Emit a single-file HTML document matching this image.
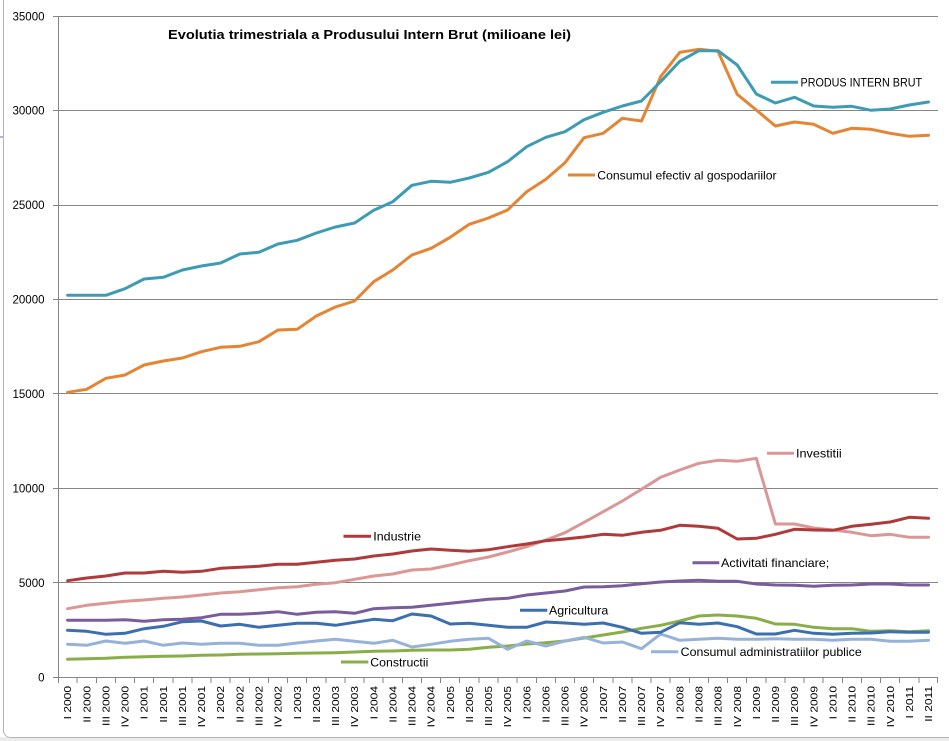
<!DOCTYPE html>
<html>
<head>
<meta charset="utf-8">
<style>
html,body{margin:0;padding:0;background:#fff;}
svg{display:block;}
text{font-family:"Liberation Sans",Arial,sans-serif;}
</style>
</head>
<body>
<svg width="949" height="741" viewBox="0 0 949 741" xmlns="http://www.w3.org/2000/svg">
<rect x="0" y="737" width="949" height="4" fill="#ececec"/>
<rect x="3.5" y="-20" width="970" height="757.5" rx="7" ry="7" fill="#fff" stroke="#b4b4b4" stroke-width="1"/>
<line x1="0" y1="137" x2="3" y2="137" stroke="#5a6fd8" stroke-width="1"/>

<!-- gridlines -->
<g stroke="#868686" stroke-width="1" shape-rendering="crispEdges">
<line x1="53" y1="16.5" x2="938" y2="16.5"/>
<line x1="53" y1="110.5" x2="938" y2="110.5"/>
<line x1="53" y1="205.5" x2="938" y2="205.5"/>
<line x1="53" y1="299.5" x2="938" y2="299.5"/>
<line x1="53" y1="393.5" x2="938" y2="393.5"/>
<line x1="53" y1="488.5" x2="938" y2="488.5"/>
<line x1="53" y1="582.5" x2="938" y2="582.5"/>
<line x1="53" y1="677.5" x2="938" y2="677.5"/>
<line x1="58.5" y1="16" x2="58.5" y2="678"/>
</g>
<!-- x ticks -->
<g stroke="#868686" stroke-width="1" shape-rendering="crispEdges">
<line x1="58.5" y1="677" x2="58.5" y2="683"/><line x1="77.1" y1="677" x2="77.1" y2="683"/><line x1="96.3" y1="677" x2="96.3" y2="683"/><line x1="115.4" y1="677" x2="115.4" y2="683"/><line x1="134.5" y1="677" x2="134.5" y2="683"/><line x1="153.7" y1="677" x2="153.7" y2="683"/><line x1="172.8" y1="677" x2="172.8" y2="683"/><line x1="191.9" y1="677" x2="191.9" y2="683"/><line x1="211.0" y1="677" x2="211.0" y2="683"/><line x1="230.2" y1="677" x2="230.2" y2="683"/><line x1="249.3" y1="677" x2="249.3" y2="683"/><line x1="268.4" y1="677" x2="268.4" y2="683"/><line x1="287.6" y1="677" x2="287.6" y2="683"/><line x1="306.7" y1="677" x2="306.7" y2="683"/><line x1="325.8" y1="677" x2="325.8" y2="683"/><line x1="345.0" y1="677" x2="345.0" y2="683"/><line x1="364.1" y1="677" x2="364.1" y2="683"/><line x1="383.2" y1="677" x2="383.2" y2="683"/><line x1="402.3" y1="677" x2="402.3" y2="683"/><line x1="421.5" y1="677" x2="421.5" y2="683"/><line x1="440.6" y1="677" x2="440.6" y2="683"/><line x1="459.7" y1="677" x2="459.7" y2="683"/><line x1="478.9" y1="677" x2="478.9" y2="683"/><line x1="498.0" y1="677" x2="498.0" y2="683"/><line x1="517.1" y1="677" x2="517.1" y2="683"/><line x1="536.3" y1="677" x2="536.3" y2="683"/><line x1="555.4" y1="677" x2="555.4" y2="683"/><line x1="574.5" y1="677" x2="574.5" y2="683"/><line x1="593.6" y1="677" x2="593.6" y2="683"/><line x1="612.8" y1="677" x2="612.8" y2="683"/><line x1="631.9" y1="677" x2="631.9" y2="683"/><line x1="651.0" y1="677" x2="651.0" y2="683"/><line x1="670.2" y1="677" x2="670.2" y2="683"/><line x1="689.3" y1="677" x2="689.3" y2="683"/><line x1="708.4" y1="677" x2="708.4" y2="683"/><line x1="727.6" y1="677" x2="727.6" y2="683"/><line x1="746.7" y1="677" x2="746.7" y2="683"/><line x1="765.8" y1="677" x2="765.8" y2="683"/><line x1="784.9" y1="677" x2="784.9" y2="683"/><line x1="804.1" y1="677" x2="804.1" y2="683"/><line x1="823.2" y1="677" x2="823.2" y2="683"/><line x1="842.3" y1="677" x2="842.3" y2="683"/><line x1="861.5" y1="677" x2="861.5" y2="683"/><line x1="880.6" y1="677" x2="880.6" y2="683"/><line x1="899.7" y1="677" x2="899.7" y2="683"/><line x1="918.9" y1="677" x2="918.9" y2="683"/><line x1="937.5" y1="677" x2="937.5" y2="683"/>
</g>

<!-- y labels -->
<g font-size="11.5" fill="#000" text-anchor="end">
<text x="44.5" y="20.5">35000</text>
<text x="44.5" y="114.5">30000</text>
<text x="44.5" y="209">25000</text>
<text x="44.5" y="303.5">20000</text>
<text x="44.5" y="398">15000</text>
<text x="44.5" y="492.5">10000</text>
<text x="44.5" y="587">5000</text>
<text x="44.5" y="681.5">0</text>
</g>

<!-- title -->
<text x="168" y="39" font-size="13" font-weight="bold" fill="#000" textLength="403" lengthAdjust="spacingAndGlyphs">Evolutia trimestriala a Produsului Intern Brut (milioane lei)</text>

<!-- series -->
<g fill="none" stroke-width="3" stroke-linejoin="round" stroke-linecap="round">
<polyline stroke="#89AE48" points="67.6,659.3 86.7,658.7 105.9,658.3 125.0,657.3 144.1,656.7 163.3,656.3 182.4,656 201.5,655.3 220.6,655 239.8,654.3 258.9,654 278.0,653.7 297.2,653.3 316.3,653 335.4,652.7 354.6,652 373.7,651.3 392.8,651 411.9,650.3 431.1,650 450.2,650 469.3,649.3 488.5,647.3 507.6,646 526.7,644 545.9,642.7 565.0,641 584.1,638 603.2,635 622.4,632 641.5,628.3 660.6,625.3 679.8,621 698.9,616 718.0,615 737.2,616 756.3,618.3 775.4,624 794.5,624.3 813.7,627.3 832.8,628.7 851.9,628.7 871.1,631.3 890.2,630.7 909.3,631.7 928.5,630.7"/>
<polyline stroke="#96B2D8" points="67.6,644.3 86.7,645.3 105.9,641 125.0,643.3 144.1,641 163.3,645.3 182.4,643 201.5,644.3 220.6,643.3 239.8,643.3 258.9,645.3 278.0,645.3 297.2,643 316.3,641 335.4,639.3 354.6,641.3 373.7,643.3 392.8,640.3 411.9,647 431.1,644.3 450.2,641.3 469.3,639.3 488.5,638.3 507.6,649.3 526.7,641 545.9,646 565.0,641 584.1,637.3 603.2,643 622.4,642 641.5,648.7 660.6,634 679.8,640.3 698.9,639.3 718.0,638.3 737.2,639.3 756.3,639.3 775.4,638.7 794.5,639.3 813.7,639.3 832.8,640.3 851.9,639.3 871.1,639.3 890.2,641.3 909.3,641.3 928.5,640.3"/>
<polyline stroke="#3C6FAF" points="67.6,630.3 86.7,631.3 105.9,634.3 125.0,633.3 144.1,628.7 163.3,626.3 182.4,621.7 201.5,621 220.6,626 239.8,624.3 258.9,627.3 278.0,625.3 297.2,623.3 316.3,623.3 335.4,625.3 354.6,622.3 373.7,619.3 392.8,620.7 411.9,614 431.1,616 450.2,624 469.3,623.3 488.5,625.3 507.6,627.3 526.7,627.3 545.9,622 565.0,623 584.1,624.3 603.2,623 622.4,627.3 641.5,633.3 660.6,632.3 679.8,622.7 698.9,624.3 718.0,623 737.2,626.7 756.3,634 775.4,634 794.5,630.3 813.7,633.3 832.8,634.3 851.9,633.3 871.1,633 890.2,631.7 909.3,632.3 928.5,632.3"/>
<polyline stroke="#7A5C9C" points="67.6,620.3 86.7,620.3 105.9,620.3 125.0,619.7 144.1,621.3 163.3,619.7 182.4,619.3 201.5,617.7 220.6,614.3 239.8,614.3 258.9,613.3 278.0,611.7 297.2,614.3 316.3,612.3 335.4,611.7 354.6,613.3 373.7,608.7 392.8,607.7 411.9,607.3 431.1,605.3 450.2,603.3 469.3,601.3 488.5,599.3 507.6,598.3 526.7,595 545.9,593 565.0,591 584.1,587 603.2,586.7 622.4,585.7 641.5,583.7 660.6,582 679.8,581 698.9,580.3 718.0,581.3 737.2,581.3 756.3,584 775.4,585 794.5,585.3 813.7,586.3 832.8,585.3 851.9,585 871.1,584 890.2,584 909.3,585 928.5,585"/>
<polyline stroke="#DA9795" points="67.6,608.7 86.7,605.3 105.9,603.3 125.0,601.3 144.1,600 163.3,598.3 182.4,597 201.5,595 220.6,593 239.8,591.7 258.9,589.7 278.0,587.7 297.2,586.7 316.3,584.3 335.4,582.7 354.6,579.3 373.7,576 392.8,574 411.9,570 431.1,569 450.2,565 469.3,560.7 488.5,557 507.6,552 526.7,546.7 545.9,540 565.0,532.7 584.1,522.3 603.2,511.7 622.4,501 641.5,489.3 660.6,477.3 679.8,470 698.9,463.3 718.0,460.3 737.2,461.3 756.3,458.3 775.4,524 794.5,524 813.7,528 832.8,530 851.9,532.3 871.1,535.7 890.2,534.3 909.3,537.3 928.5,537.3"/>
<polyline stroke="#B0393A" points="67.6,580.7 86.7,578 105.9,576 125.0,573 144.1,573 163.3,571.3 182.4,572.3 201.5,571.3 220.6,568.3 239.8,567.3 258.9,566.3 278.0,564.3 297.2,564.3 316.3,562.3 335.4,560.3 354.6,559 373.7,556 392.8,554 411.9,551 431.1,549 450.2,550.3 469.3,551.3 488.5,549.7 507.6,546.7 526.7,544 545.9,540.7 565.0,539 584.1,537 603.2,534.3 622.4,535.3 641.5,532.3 660.6,530.3 679.8,525.3 698.9,526.3 718.0,528.3 737.2,539 756.3,538.3 775.4,534.3 794.5,529.3 813.7,530 832.8,530.3 851.9,526.3 871.1,524.3 890.2,522 909.3,517.3 928.5,518.3"/>
<polyline stroke="#E58432" points="67.6,392.3 86.7,389.3 105.9,378.3 125.0,375 144.1,365 163.3,361 182.4,358 201.5,351.7 220.6,347.3 239.8,346.3 258.9,341.7 278.0,330 297.2,329.3 316.3,316 335.4,307 354.6,301 373.7,281.7 392.8,270 411.9,255 431.1,248.3 450.2,237.3 469.3,224.3 488.5,218 507.6,210 526.7,191.7 545.9,179.3 565.0,162.7 584.1,137.7 603.2,133.3 622.4,118.3 641.5,121 660.6,76.7 679.8,52.3 698.9,49.3 718.0,51.3 737.2,94.3 756.3,110 775.4,126 794.5,122 813.7,124.3 832.8,133.3 851.9,128.3 871.1,129.3 890.2,133.3 909.3,136.3 928.5,135.3"/>
<polyline stroke="#3E9BB4" points="67.6,295.3 86.7,295.3 105.9,295.3 125.0,288.7 144.1,279 163.3,277.3 182.4,270 201.5,266 220.6,263 239.8,254 258.9,252.3 278.0,244 297.2,240.3 316.3,233 335.4,227 354.6,223 373.7,210.3 392.8,201.7 411.9,185.3 431.1,181.3 450.2,182.3 469.3,178 488.5,172.3 507.6,161.7 526.7,146.7 545.9,137.3 565.0,131.7 584.1,119.7 603.2,112.3 622.4,106 641.5,101 660.6,81.7 679.8,61.3 698.9,50.7 718.0,50.7 737.2,65 756.3,94 775.4,103 794.5,97.3 813.7,106 832.8,107.3 851.9,106.3 871.1,110.3 890.2,109 909.3,105 928.5,102"/>
</g>

<!-- inline legend markers -->
<g stroke-width="3" stroke-linecap="butt">
<line x1="771" y1="82.3" x2="798" y2="82.3" stroke="#3E9BB4"/>
<line x1="568" y1="175" x2="595" y2="175" stroke="#E58432"/>
<line x1="767" y1="453.3" x2="794" y2="453.3" stroke="#DA9795"/>
<line x1="343.5" y1="536.3" x2="371" y2="536.3" stroke="#B0393A"/>
<line x1="692.5" y1="562.7" x2="719.3" y2="562.7" stroke="#7A5C9C"/>
<line x1="520" y1="610.3" x2="547.3" y2="610.3" stroke="#3C6FAF"/>
<line x1="651" y1="651.7" x2="678.3" y2="651.7" stroke="#96B2D8"/>
<line x1="341" y1="662" x2="368.3" y2="662" stroke="#89AE48"/>
</g>
<g font-size="12" fill="#000">
<text x="800.5" y="86.6" textLength="121.6" lengthAdjust="spacingAndGlyphs">PRODUS INTERN BRUT</text>
<text x="597.3" y="179.3" textLength="179.3" lengthAdjust="spacingAndGlyphs">Consumul efectiv al gospodariilor</text>
<text x="796" y="457.6" textLength="45.7" lengthAdjust="spacingAndGlyphs">Investitii</text>
<text x="373.3" y="540.6" textLength="47.7" lengthAdjust="spacingAndGlyphs">Industrie</text>
<text x="721" y="567" textLength="108.3" lengthAdjust="spacingAndGlyphs">Activitati financiare;</text>
<text x="549" y="614.6" textLength="59.3" lengthAdjust="spacingAndGlyphs">Agricultura</text>
<text x="680.7" y="656" textLength="181" lengthAdjust="spacingAndGlyphs">Consumul administratiilor publice</text>
<text x="370.3" y="666.3" textLength="58" lengthAdjust="spacingAndGlyphs">Constructii</text>
</g>

<!-- x labels -->
<g font-size="10" fill="#000" text-anchor="end">
<text transform="translate(71.2,686) rotate(-90) scale(1.2,1)">I 2000</text>
<text transform="translate(90.3,686) rotate(-90) scale(1.2,1)">II 2000</text>
<text transform="translate(109.5,686) rotate(-90) scale(1.2,1)">III 2000</text>
<text transform="translate(128.6,686) rotate(-90) scale(1.2,1)">IV 2000</text>
<text transform="translate(147.7,686) rotate(-90) scale(1.2,1)">I 2001</text>
<text transform="translate(166.9,686) rotate(-90) scale(1.2,1)">II 2001</text>
<text transform="translate(186.0,686) rotate(-90) scale(1.2,1)">III 2001</text>
<text transform="translate(205.1,686) rotate(-90) scale(1.2,1)">IV 2001</text>
<text transform="translate(224.2,686) rotate(-90) scale(1.2,1)">I 2002</text>
<text transform="translate(243.4,686) rotate(-90) scale(1.2,1)">II 2002</text>
<text transform="translate(262.5,686) rotate(-90) scale(1.2,1)">III 2002</text>
<text transform="translate(281.6,686) rotate(-90) scale(1.2,1)">IV 2002</text>
<text transform="translate(300.8,686) rotate(-90) scale(1.2,1)">I 2003</text>
<text transform="translate(319.9,686) rotate(-90) scale(1.2,1)">II 2003</text>
<text transform="translate(339.0,686) rotate(-90) scale(1.2,1)">III 2003</text>
<text transform="translate(358.2,686) rotate(-90) scale(1.2,1)">IV 2003</text>
<text transform="translate(377.3,686) rotate(-90) scale(1.2,1)">I 2004</text>
<text transform="translate(396.4,686) rotate(-90) scale(1.2,1)">II 2004</text>
<text transform="translate(415.5,686) rotate(-90) scale(1.2,1)">III 2004</text>
<text transform="translate(434.7,686) rotate(-90) scale(1.2,1)">IV 2004</text>
<text transform="translate(453.8,686) rotate(-90) scale(1.2,1)">I 2005</text>
<text transform="translate(472.9,686) rotate(-90) scale(1.2,1)">II 2005</text>
<text transform="translate(492.1,686) rotate(-90) scale(1.2,1)">III 2005</text>
<text transform="translate(511.2,686) rotate(-90) scale(1.2,1)">IV 2005</text>
<text transform="translate(530.3,686) rotate(-90) scale(1.2,1)">I 2006</text>
<text transform="translate(549.5,686) rotate(-90) scale(1.2,1)">II 2006</text>
<text transform="translate(568.6,686) rotate(-90) scale(1.2,1)">III 2006</text>
<text transform="translate(587.7,686) rotate(-90) scale(1.2,1)">IV 2006</text>
<text transform="translate(606.8,686) rotate(-90) scale(1.2,1)">I 2007</text>
<text transform="translate(626.0,686) rotate(-90) scale(1.2,1)">II 2007</text>
<text transform="translate(645.1,686) rotate(-90) scale(1.2,1)">III 2007</text>
<text transform="translate(664.2,686) rotate(-90) scale(1.2,1)">IV 2007</text>
<text transform="translate(683.4,686) rotate(-90) scale(1.2,1)">I 2008</text>
<text transform="translate(702.5,686) rotate(-90) scale(1.2,1)">II 2008</text>
<text transform="translate(721.6,686) rotate(-90) scale(1.2,1)">III 2008</text>
<text transform="translate(740.8,686) rotate(-90) scale(1.2,1)">IV 2008</text>
<text transform="translate(759.9,686) rotate(-90) scale(1.2,1)">I 2009</text>
<text transform="translate(779.0,686) rotate(-90) scale(1.2,1)">II 2009</text>
<text transform="translate(798.1,686) rotate(-90) scale(1.2,1)">III 2009</text>
<text transform="translate(817.3,686) rotate(-90) scale(1.2,1)">IV 2009</text>
<text transform="translate(836.4,686) rotate(-90) scale(1.2,1)">I 2010</text>
<text transform="translate(855.5,686) rotate(-90) scale(1.2,1)">II 2010</text>
<text transform="translate(874.7,686) rotate(-90) scale(1.2,1)">III 2010</text>
<text transform="translate(893.8,686) rotate(-90) scale(1.2,1)">IV 2010</text>
<text transform="translate(912.9,686) rotate(-90) scale(1.2,1)">I 2011</text>
<text transform="translate(932.1,686) rotate(-90) scale(1.2,1)">II 2011</text>
</g>
</svg>
</body>
</html>
